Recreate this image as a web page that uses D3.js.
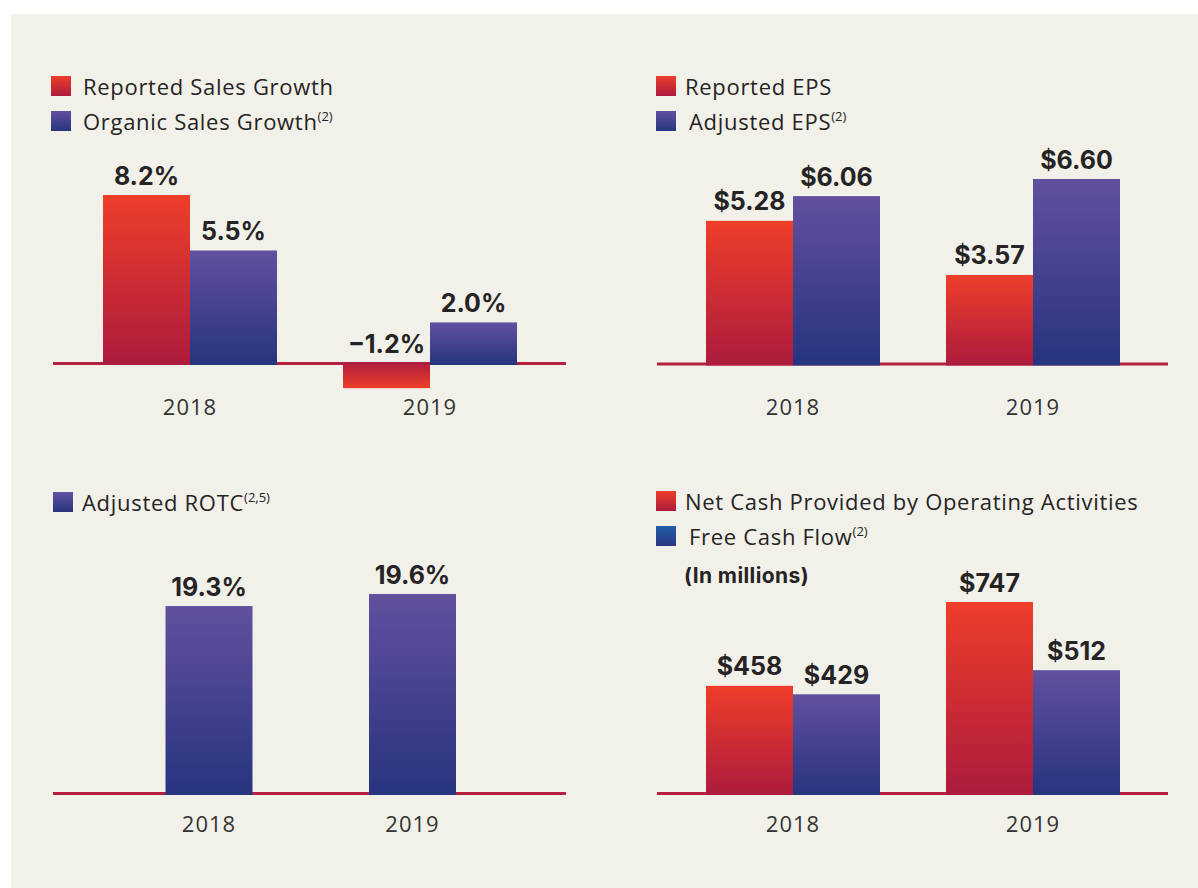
<!DOCTYPE html>
<html>
<head>
<meta charset="utf-8">
<script src="https://cdn.jsdelivr.net/npm/d3@7"></script>
<style>
  html, body { margin: 0; padding: 0; background: #ffffff; }
  svg { display: block; }
</style>
</head>
<body>
<svg id="chart" width="1198" height="888"></svg>
<script>
// ---------------- DATA ----------------
const years = ["2018", "2019"];

const salesKeys = ["Reported Sales Growth", "Organic Sales Growth"];
const salesSup = ["", "(2)"];
const reportedSalesGrowth = [8.2, -1.2];
const organicSalesGrowth = [5.5, 2.0];

const epsKeys = ["Reported EPS", "Adjusted EPS"];
const epsSup = ["", "(2)"];
const reportedEPS = [5.28, 3.57];
const adjustedEPS = [6.06, 6.60];

const rotcKeys = ["Adjusted ROTC"];
const rotcSup = ["(2,5)"];
const adjustedROTC = [19.3, 19.6];

const cashKeys = ["Net Cash Provided by Operating Activities", "Free Cash Flow"];
const cashSup = ["", "(2)"];
const netCashOperating = [458, 747];
const freeCashFlow = [429, 512];
const cashNote = "(In millions)";

// ---------------- STYLE ----------------
const svg = d3.select("#chart");
const defs = svg.append("defs");
function grad(id, top, bottom, reverse) {
  const g = defs.append("linearGradient").attr("id", id)
    .attr("x1", 0).attr("y1", reverse ? 1 : 0).attr("x2", 0).attr("y2", reverse ? 0 : 1);
  g.append("stop").attr("offset", "0%").attr("stop-color", top);
  g.append("stop").attr("offset", "100%").attr("stop-color", bottom);
}
grad("gRed", "#ee3e2a", "#ac1b3d", false);
grad("gRedNeg", "#ee3e2a", "#ac1b3d", true);
grad("gPurple", "#62509f", "#27347f", false);
grad("gPurpleNeg", "#62509f", "#27347f", true);
grad("gBlue", "#1e60a9", "#2b3380", false);

const TEXT = "#262324";
const LEGEND_FONT = "'Open Sans', 'Noto Sans', sans-serif";
const LABEL_FONT = "Inter, 'Open Sans', sans-serif";

svg.append("rect").attr("x", 11).attr("y", 14).attr("width", 1187).attr("height", 874).attr("fill", "#f2f1e9");

// ---------------- PANELS ----------------
const panels = [
  {
    keys: salesKeys, sup: salesSup, values: [reportedSalesGrowth, organicSalesGrowth],
    fills: ["gRed", "gPurple"], swatches: ["gRed", "gPurple"],
    fmt: v => d3.format(".1f")(v).replace("-", "–") + "%",
    line: [53, 566], baseY: 363.5,
    xRange: [103, 517], pad: 0.275,
    yDomain: [0, 8.2], yTop: 195,
    legend: { x: 51, y: 76, tx: [83, 83] },
    yearY: 415
  },
  {
    keys: epsKeys, sup: epsSup, values: [reportedEPS, adjustedEPS],
    fills: ["gRed", "gPurple"], swatches: ["gRed", "gPurple"],
    fmt: v => "$" + d3.format(".2f")(v),
    line: [657, 1168], baseY: 364,
    xRange: [706, 1120], pad: 0.275,
    yDomain: [0.76, 6.60], yTop: 179,
    legend: { x: 656, y: 76, tx: [685, 689] },
    yearY: 415
  },
  {
    keys: rotcKeys, sup: rotcSup, values: [adjustedROTC],
    fills: ["gPurple"], swatches: ["gPurple"],
    fmt: v => d3.format(".1f")(v) + "%",
    line: [53, 566], baseY: 793.5,
    xRange: [165.5, 456], pad: 0.5725,
    yDomain: [14.625, 19.6], yTop: 594,
    legend: { x: 53, y: 492, tx: [82] },
    yearY: 832
  },
  {
    keys: cashKeys, sup: cashSup, values: [netCashOperating, freeCashFlow],
    fills: ["gRed", "gPurple"], swatches: ["gRed", "gBlue"],
    fmt: v => "$" + d3.format("d")(v),
    line: [657, 1168], baseY: 793.5,
    xRange: [706, 1120], pad: 0.275,
    yDomain: [87, 747], yTop: 602,
    legend: { x: 656, y: 491, tx: [685, 689] },
    note: cashNote,
    yearY: 832
  }
];

panels.forEach(p => {
  const g = svg.append("g");

  // legend
  p.keys.forEach((k, i) => {
    const ly = p.legend.y + i * 35;
    g.append("rect").attr("x", p.legend.x).attr("y", ly).attr("width", 20).attr("height", 20)
      .attr("fill", `url(#${p.swatches[i]})`);
    const t = g.append("text").attr("x", p.legend.tx[i]).attr("y", ly + 19)
      .attr("font-family", LEGEND_FONT).attr("font-size", 22).attr("letter-spacing", 0.7)
      .attr("fill", TEXT);
    t.append("tspan").text(k);
    if (p.sup[i]) {
      t.append("tspan").attr("font-size", 13).attr("letter-spacing", 0).attr("dy", -9).attr("dx", 0).text(p.sup[i]);
    }
  });
  if (p.note) {
    g.append("text").attr("x", p.legend.x + 28).attr("y", p.legend.y + 92)
      .attr("font-family", LABEL_FONT).attr("font-weight", 700).attr("font-size", 21)
      .attr("letter-spacing", 0.4).attr("fill", TEXT).text(p.note);
  }

  // scales
  const x = d3.scaleBand().domain(years).range(p.xRange).paddingInner(p.pad).paddingOuter(0);
  const sub = d3.scaleBand().domain(p.keys).range([0, x.bandwidth()]).padding(0);
  const y = d3.scaleLinear().domain(p.yDomain).range([p.baseY, p.yTop]);
  const base = p.yDomain[0] > 0 ? p.yDomain[0] : 0;

  // baseline
  g.append("line").attr("x1", p.line[0]).attr("x2", p.line[1])
    .attr("y1", p.baseY).attr("y2", p.baseY)
    .attr("stroke", "#b51f40").attr("stroke-width", 3);

  // bars + labels
  p.keys.forEach((k, si) => {
    const vals = p.values[si];
    years.forEach((yr, yi) => {
      const v = vals[yi];
      const bx = x(yr) + sub(k);
      const bw = sub.bandwidth();
      const neg = v < base;
      const y0 = neg ? y(base) - 1.5 : y(v);
      const y1 = neg ? y(v) : y(base) + 1.5;
      g.append("rect").attr("x", bx).attr("y", y0).attr("width", bw).attr("height", y1 - y0)
        .attr("fill", `url(#${neg ? p.fills[si] + "Neg" : p.fills[si]})`);
      const ty = (neg ? y(base) : y(v)) - 10.5;
      g.append("text").attr("x", bx + bw / 2).attr("y", ty).attr("text-anchor", "middle")
        .attr("font-family", LABEL_FONT).attr("font-weight", 700).attr("font-size", 25)
        .attr("fill", TEXT).text(p.fmt(v));
    });
  });

  // year axis labels
  years.forEach(yr => {
    g.append("text").attr("x", x(yr) + x.bandwidth() / 2).attr("y", p.yearY)
      .attr("text-anchor", "middle").attr("font-family", LEGEND_FONT)
      .attr("font-size", 22).attr("letter-spacing", 1).attr("fill", "#333")
      .text(yr);
  });
});
</script>
</body>
</html>
